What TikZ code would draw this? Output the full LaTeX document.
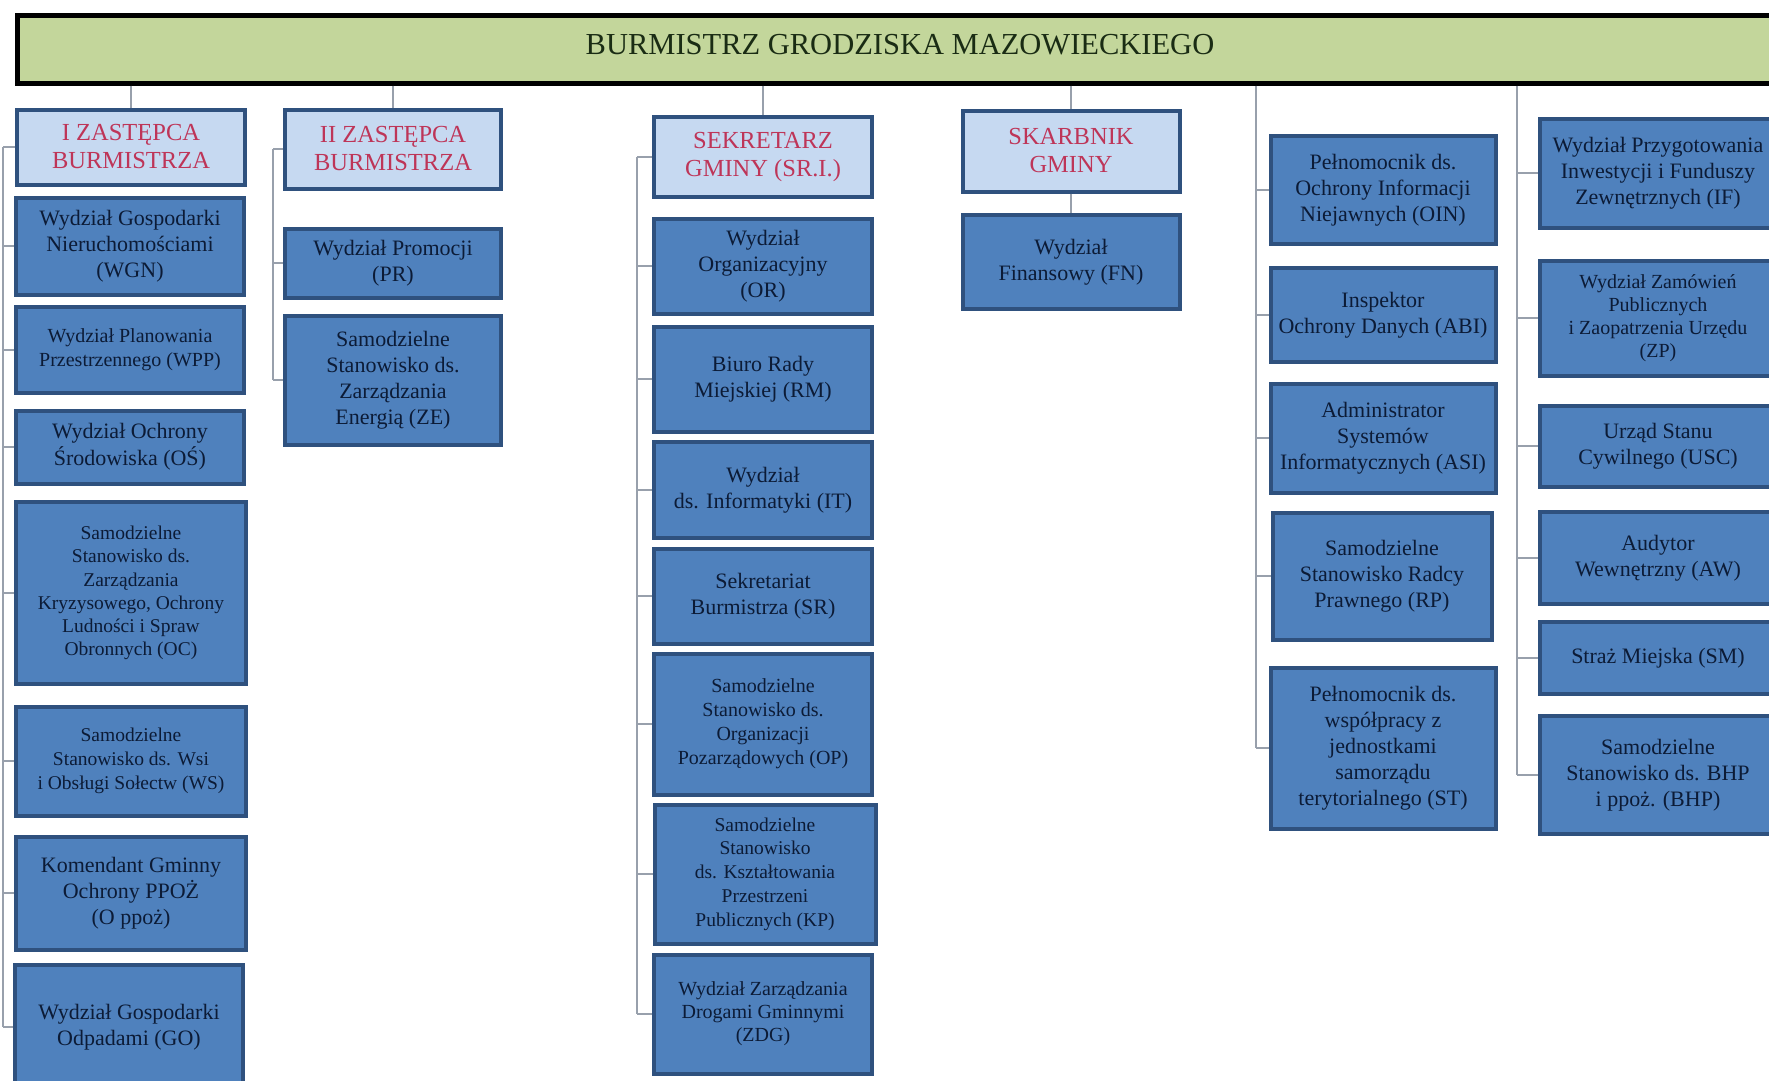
\documentclass[tikz,border=0pt]{standalone}
\usepackage{fontspec}
\setmainfont{Liberation Serif}

\definecolor{mayorgreen}{HTML}{C3D69B}
\definecolor{mayorink}{HTML}{1A2C14}
\definecolor{headblue}{HTML}{C6D9F1}
\definecolor{headred}{HTML}{BE3558}
\definecolor{boxedge}{HTML}{2F517E}
\definecolor{unitblue}{HTML}{4F81BD}
\definecolor{unitnavy}{HTML}{0C1B36}
\definecolor{linkgrey}{HTML}{98A0AC}

\begin{document}
\begin{tikzpicture}
[x=1pt,y=-1pt,
  mayordecorate/.style={draw=black,line width=5pt,fill=mayorgreen,text=mayorink,
    inner sep=0pt,text depth=10pt,font=\fontsize{30.5}{36}\selectfont},
  headdecorate/.style={draw=boxedge,line width=4pt,fill=headblue,text=headred,
    align=center,inner sep=0pt,font=\fontsize{24.5}{28}\selectfont},
  unitdecorate/.style={draw=boxedge,line width=4pt,fill=unitblue,text=unitnavy,
    align=center,inner sep=0pt},
  linedecorate/.style={-,draw=linkgrey,line width=1.2pt}]
\useasboundingbox (0,0) rectangle (1769,1080);
\clip (0,0) rectangle (1769,1080);
%% top box
\node (mayor) at (900,49) [mayordecorate,minimum width=1765,minimum height=68]
  {BURMISTRZ GRODZISKA MAZOWIECKIEGO};
%% deputies
\foreach \nodename/\x/\y/\w/\h/\label in {
  head1/131/147/228/75/{I ZASTĘPCA\\BURMISTRZA},
  head2/393/149/216/79/{II ZASTĘPCA\\BURMISTRZA},
  head3/763/157/218/80/{SEKRETARZ\\GMINY (SR.I.)},
  head4/1071/151/217/81/{SKARBNIK\\GMINY}}
{
  \node (\nodename) at (\x,\y) [headdecorate,minimum width=\w,minimum height=\h] {\label};
}
%% units
\foreach \nodename/\x/\y/\w/\h/\fs/\bs/\label in {
  %% first deputy
  WGN/130/246/228/97/22/26/{Wydział Gospodarki\\Nieruchomościami\\(WGN)},
  WPP/130/350/228/86/20/24/{Wydział Planowania\\Przestrzennego (WPP)},
  OS/130/447/228/73/22/27/{Wydział Ochrony\\Środowiska (OŚ)},
  OC/131/593/230/182/19.5/23.3/{Samodzielne\\Stanowisko ds.\\Zarządzania\\Kryzysowego, Ochrony\\Ludności i Spraw\\Obronnych (OC)},
  WS/131/761/230/109/19.5/23.7/{Samodzielne\\Stanowisko ds. Wsi\\i Obsługi Sołectw (WS)},
  OPPOZ/131/893/230/113/22/26/{Komendant Gminny\\Ochrony PPOŻ\\(O ppoż)},
  GO/129/1027/228/125/22/26/{Wydział Gospodarki\\Odpadami (GO)},
  %% second deputy
  PR/393/263/216/69/22/26/{Wydział Promocji\\(PR)},
  ZE/393/380/216/129/22/26/{Samodzielne\\Stanowisko ds.\\Zarządzania\\Energią (ZE)},
  %% secretary
  OR/763/266/218/95/22/26/{Wydział\\Organizacyjny\\(OR)},
  RM/763/379/218/105/22/26/{Biuro Rady\\Miejskiej (RM)},
  IT/763/490/218/96/22/26/{Wydział\\ds. Informatyki (IT)},
  SR/763/596/218/95/22/26/{Sekretariat\\Burmistrza (SR)},
  OP/763/724/218/141/20/24/{Samodzielne\\Stanowisko ds.\\Organizacji\\Pozarządowych (OP)},
  KP/765/874/221/139/19.5/23.7/{Samodzielne\\Stanowisko\\ds. Kształtowania\\Przestrzeni\\Publicznych (KP)},
  ZDG/763/1014/218/119/20/23/{Wydział Zarządzania\\Drogami Gminnymi\\(ZDG)},
  %% treasurer
  FN/1071/262/217/94/22/26/{Wydział\\Finansowy (FN)},
  %% mayor, first group
  OIN/1383/190/225/108/22/26/{Pełnomocnik ds.\\Ochrony Informacji\\Niejawnych (OIN)},
  ABI/1383/315/225/94/22/26/{Inspektor\\Ochrony Danych (ABI)},
  ASI/1383/438/225/109/22/26/{Administrator\\Systemów\\Informatycznych (ASI)},
  RP/1382/576/219/127/22/26/{Samodzielne\\Stanowisko Radcy\\Prawnego (RP)},
  ST/1383/748/225/161/22/26/{Pełnomocnik ds.\\współpracy z\\jednostkami\\samorządu\\terytorialnego (ST)},
  %% mayor, second group
  IF/1658/173/237/109/22/26/{Wydział Przygotowania\\Inwestycji i Funduszy\\Zewnętrznych (IF)},
  ZP/1658/318/237/115/20/23/{Wydział Zamówień\\Publicznych\\i Zaopatrzenia Urzędu\\(ZP)},
  USC/1658/446/237/81/22/26/{Urząd Stanu\\Cywilnego (USC)},
  AW/1658/558/237/92/22/26/{Audytor\\Wewnętrzny (AW)},
  SM/1658/658/237/72/22/26/{Straż Miejska (SM)},
  BHP/1658/775/237/118/22/26/{Samodzielne\\Stanowisko ds. BHP\\i ppoż. (BHP)}}
{
  \node (\nodename) at (\x,\y) [unitdecorate,minimum width=\w,minimum height=\h,
    font=\fontsize{\fs}{\bs}\selectfont] {\label};
}
%% buses
\coordinate (bus1) at (3,0);
\coordinate (bus2) at (273,0);
\coordinate (bus3) at (637,0);
\coordinate (bus5) at (1256,0);
\coordinate (bus6) at (1517,0);
%% edges or lines
\path
\foreach \endnode in {head1,head2,head3,head4}
{
  (mayor.south -| \endnode.north) edge[linedecorate] (\endnode.north)
}
\foreach \topnode/\endnode/\busname in {head1/GO/bus1, head2/ZE/bus2, head3/ZDG/bus3}
{
  (\topnode.west -| \busname) edge[linedecorate] (\endnode.west -| \busname)
}
\foreach \endnode/\busname in {ST/bus5, BHP/bus6}
{
  (mayor.south -| \busname) edge[linedecorate] (\endnode.west -| \busname)
}
\foreach \startnode/\busname in {head1/bus1, WGN/bus1, WPP/bus1, OS/bus1, OC/bus1,
  WS/bus1, OPPOZ/bus1, GO/bus1, head2/bus2, PR/bus2, ZE/bus2, head3/bus3, OR/bus3,
  RM/bus3, IT/bus3, SR/bus3, OP/bus3, KP/bus3, ZDG/bus3, OIN/bus5, ABI/bus5,
  ASI/bus5, RP/bus5, ST/bus5, IF/bus6, ZP/bus6, USC/bus6, AW/bus6, SM/bus6, BHP/bus6}
{
  (\startnode.west) edge[linedecorate] (\startnode.west -| \busname)
}
(head4.south) edge[linedecorate] (FN.north);
\end{tikzpicture}
\end{document}
